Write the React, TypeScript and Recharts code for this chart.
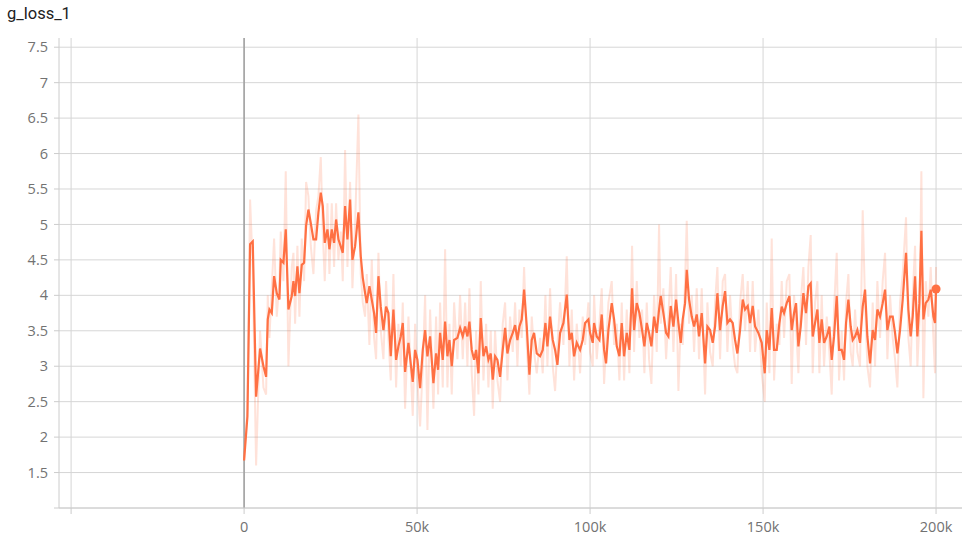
import {
  CartesianGrid,
  Line,
  LineChart,
  ReferenceDot,
  ReferenceLine,
  XAxis,
  YAxis,
} from "recharts";

// training step, in thousands
const steps = [
  0, 0.96, 1.73, 2.5, 3.47, 4.62, 5.59, 6.36, 6.84, 7.32,
  8.0, 8.67, 9.44, 10.21, 10.6, 11.37, 12.04, 12.81, 13.78, 14.26,
  14.74, 15.41, 15.99, 16.67, 17.34, 17.92, 18.59, 19.27, 20.04, 20.81,
  21.48, 22.16, 22.74, 23.31, 24.09, 24.66, 25.34, 26.01, 26.59, 27.26,
  27.94, 28.52, 29.19, 29.87, 30.64, 31.31, 32.08, 33.04, 33.72, 34.3,
  34.97, 35.45, 36.22, 36.9, 37.57, 38.15, 38.83, 39.5, 40.27, 41.04,
  41.71, 42.39, 43.16, 43.93, 44.6, 45.28, 45.86, 46.53, 47.5,
  // 50k – 100k
  48.75, 49.43, 50.1, 50.87, 51.64, 52.32, 52.99, 53.76, 54.72, 55.49,
  56.07, 56.65, 57.42, 58.1, 58.77, 59.35, 60.02, 60.7, 61.66, 62.43,
  63.2, 63.88, 64.55, 65.13, 65.8, 66.48, 67.06, 67.73, 68.4, 69.18,
  69.95, 70.62, 71.29, 71.87, 72.55, 73.22, 73.99, 74.76, 75.44, 76.11,
  76.88, 77.65, 78.33, 79.0, 79.58, 80.25, 80.93, 81.7, 82.47, 83.14,
  83.82, 84.59, 85.55, 86.32, 87.09, 87.67, 88.44, 89.21, 89.89, 90.56,
  91.33, 92.3, 93.26, 94.03, 94.7, 95.38, 96.15, 97.11, 97.88, 98.56,
  99.52,
  // 100k – 150k
  100.0, 100.77, 101.16, 101.93, 102.7, 103.37, 104.05, 104.62, 105.3, 106.26,
  106.94, 107.71, 108.48, 109.15, 109.83, 110.6, 111.37, 112.14, 112.72, 113.49,
  114.26, 115.03, 115.7, 116.38, 117.05, 117.73, 118.5, 119.27, 119.94, 120.42,
  121.19, 121.97, 122.64, 123.31, 124.09, 124.86, 125.53, 126.21, 126.78, 127.46,
  127.94, 128.61, 129.38, 130.06, 130.83, 131.5, 132.27, 133.24, 133.91, 134.68,
  135.45, 136.13, 136.8, 137.57, 138.34, 139.02, 139.69, 140.46, 141.23, 141.91,
  142.58, 143.35, 144.12, 144.8, 145.57, 146.24, 147.01, 147.69, 148.65, 149.62,
  // 150k – 200k
  150.48, 151.06, 151.83, 152.5, 153.18, 153.95, 154.72, 155.39, 156.07, 156.84,
  157.61, 158.28, 158.96, 159.53, 160.21, 160.88, 161.65, 162.42, 163.1, 163.77,
  164.35, 165.03, 165.7, 166.28, 166.95, 167.63, 168.4, 169.17, 169.84, 170.52,
  171.29, 171.96, 172.73, 173.41, 173.99, 174.66, 175.33, 175.91, 176.59, 177.26,
  178.03, 178.8, 179.48, 180.15, 180.92, 181.69, 182.37, 183.04, 183.81, 184.58,
  185.26, 185.93, 186.7, 187.47, 188.15, 188.82, 189.59, 190.36, 191.32, 192.0,
  192.67, 193.25, 193.93, 194.6, 195.18, 195.76, 196.34, 197.01, 197.78, 198.46,
  199.23, 199.7, 200.0,
];

const smoothedLoss = [
  1.67, 2.29, 4.72, 4.76, 2.57, 3.25, 3.0, 2.85, 3.66, 3.8,
  3.75, 4.27, 4.03, 3.94, 4.5, 4.46, 4.93, 3.8, 3.99, 4.2,
  3.99, 4.41, 4.03, 4.43, 4.46, 4.98, 5.21, 5.02, 4.79, 4.79,
  5.17, 5.45, 5.26, 4.74, 4.93, 4.65, 4.93, 4.74, 5.07, 4.79,
  4.69, 4.6, 5.26, 4.79, 5.35, 4.5, 4.69, 5.17, 4.55, 4.25,
  4.03, 3.89, 4.13, 3.94, 3.75, 3.47, 4.27, 3.84, 3.51, 3.84,
  3.75, 3.14, 3.8, 3.09, 3.28, 3.42, 3.61, 2.92, 3.33,
  2.78, 3.23, 3.09, 2.69, 3.23, 3.51, 3.14, 3.42, 2.76, 3.18,
  2.95, 3.47, 3.09, 3.63, 3.14, 3.37, 3.0, 3.37, 3.4, 3.54,
  3.42, 3.56, 3.42, 3.63, 3.23, 3.09, 3.23, 2.9, 3.68, 3.14,
  3.28, 3.09, 3.18, 2.81, 3.14, 3.09, 2.85, 3.23, 3.54, 3.18,
  3.37, 3.47, 3.58, 3.37, 3.56, 3.66, 4.08, 3.56, 2.88, 3.37,
  3.47, 3.18, 3.14, 3.23, 3.61, 3.28, 3.7, 3.37, 3.23, 3.02,
  3.47, 3.61, 4.01, 3.37, 3.47, 3.14, 3.33, 3.23, 3.37, 3.61,
  3.66,
  3.47, 3.33, 3.61, 3.42, 3.37, 3.73, 3.23, 3.04, 3.51, 3.89,
  3.66, 3.28, 3.14, 3.61, 3.14, 3.47, 3.23, 4.1, 3.51, 3.89,
  3.75, 3.51, 3.28, 3.61, 3.47, 3.28, 3.7, 3.47, 3.8, 3.99,
  3.75, 3.47, 3.42, 3.85, 3.56, 3.94, 3.61, 3.33, 3.66, 3.89,
  4.36, 3.94, 3.7, 3.56, 3.73, 3.42, 3.75, 3.04, 3.56, 3.51,
  3.33, 3.56, 4.03, 3.51, 3.85, 4.06, 3.61, 3.66, 3.61, 3.37,
  3.18, 3.51, 3.94, 3.8, 3.85, 3.61, 3.85, 3.56, 3.47, 3.33,
  2.9, 3.51, 3.23, 3.82, 3.23, 3.23, 3.61, 3.84, 3.75, 3.89,
  3.99, 3.51, 3.75, 3.89, 3.28, 3.56, 4.03, 3.75, 4.13, 4.17,
  3.42, 3.61, 3.8, 3.33, 3.66, 3.33, 3.42, 3.56, 3.09, 3.42,
  3.99, 3.23, 3.23, 3.09, 3.61, 3.94, 3.56, 3.37, 3.42, 3.51,
  3.33, 3.84, 4.08, 3.42, 3.04, 3.51, 3.37, 3.8, 3.7, 3.89,
  4.08, 3.51, 3.7, 3.7, 3.47, 3.18, 3.51, 3.94, 4.6, 3.8,
  3.42, 3.7, 4.27, 3.42, 3.89, 4.91, 3.66, 3.89, 3.94, 4.08,
  3.7, 3.61, 4.09,
];

const rawLoss = [
  1.7, 2.4, 5.35, 4.4, 1.6, 3.5, 2.7, 2.6, 4.0, 3.4,
  4.1, 4.8, 3.7, 4.2, 4.9, 4.2, 5.75, 3.0, 4.4, 4.6,
  3.6, 4.7, 3.7, 4.8, 4.2, 5.6, 5.4, 4.7, 4.3, 5.2,
  5.4, 5.95, 4.9, 4.2, 5.3, 4.3, 5.3, 4.4, 5.3, 4.5,
  4.9, 4.2, 6.05, 4.4, 5.6, 4.1, 5.0, 6.55, 4.3, 3.9,
  3.7, 4.3, 3.3, 4.5, 3.4, 3.1, 4.6, 3.5, 3.1, 4.2,
  3.4, 2.8, 4.3, 2.7, 3.6, 3.0, 3.9, 2.4, 3.7,
  2.3, 3.6, 2.8, 2.15, 3.0, 4.0, 2.1, 3.8, 2.4, 3.7,
  2.6, 3.9, 2.7, 4.65, 2.7, 3.6, 2.6, 3.9, 3.1, 4.0,
  3.1, 3.9, 3.0, 4.1, 2.9, 2.3, 3.5, 2.6, 4.2, 2.8,
  3.6, 2.7, 3.5, 2.4, 3.5, 2.8, 2.5, 3.6, 3.9, 2.8,
  3.7, 3.2, 3.9, 3.0, 3.8, 3.4, 4.4, 3.3, 2.6, 3.7,
  3.2, 2.9, 3.4, 2.9, 4.0, 3.0, 4.1, 3.0, 2.65, 3.3,
  3.9, 3.3, 4.55, 3.0, 3.8, 2.8, 3.6, 2.9, 3.7, 3.3,
  3.9,
  3.2, 3.0, 4.0, 3.1, 3.6, 4.1, 2.75, 3.3, 3.9, 4.2,
  3.3, 3.6, 2.8, 3.9, 2.8, 3.8, 2.9, 4.7, 3.2, 4.2,
  3.4, 3.8, 2.9, 3.9, 3.1, 2.75, 4.0, 3.2, 5.0, 3.6,
  4.1, 3.1, 3.7, 4.4, 3.2, 4.3, 2.65, 3.6, 3.3, 4.2,
  5.05, 3.6, 4.0, 3.2, 4.1, 3.1, 4.1, 2.6, 3.9, 3.2,
  3.0, 3.9, 4.4, 3.1, 4.2, 4.3, 3.2, 4.0, 3.3, 3.0,
  2.9, 3.9, 4.3, 3.5, 4.2, 3.2, 4.2, 3.2, 3.8, 2.9,
  2.5, 3.9, 2.9, 4.8, 2.8, 3.6, 3.3, 4.2, 3.4, 4.2,
  4.3, 2.75, 4.0, 3.6, 2.9, 3.9, 4.4, 3.3, 4.4, 4.85,
  2.9, 3.9, 4.2, 2.9, 4.0, 3.0, 3.7, 3.2, 2.6, 3.8,
  4.6, 2.8, 3.5, 2.8, 3.9, 4.3, 3.2, 3.0, 3.8, 3.2,
  3.0, 5.2, 3.9, 3.0, 2.7, 3.9, 3.0, 4.2, 3.4, 4.2,
  4.6, 3.1, 4.0, 3.4, 3.1, 2.7, 3.9, 4.3, 5.1, 3.4,
  3.0, 4.0, 4.7, 3.0, 3.6, 5.75, 2.55, 4.2, 3.7, 4.4,
  3.4, 2.9, 4.4,
];

const xTicks = [-50, 0, 50, 100, 150, 200];
const yTicks = [1, 1.5, 2, 2.5, 3, 3.5, 4, 4.5, 5, 5.5, 6, 6.5, 7, 7.5];

const ORANGE = "#ff7043";
const tickStyle = { fill: "#727272", fontSize: 14.5, fontFamily: "'Open Sans', sans-serif" };

const data = steps.map((s, i) => ({ step: s, raw: rawLoss[i], smooth: smoothedLoss[i] }));

const fmtX = (v: number) => (v < 0 ? "" : v === 0 ? "0" : `${v}k`);
const fmtY = (v: number) => (v === 1 ? "" : String(v));

export default function App() {
  const last = steps.length - 1;
  return (
    <div style={{ position: "absolute", left: 0, top: 0, width: 962, height: 538, background: "#fff" }}>
      <div
        style={{
          position: "absolute",
          left: 7,
          top: 4,
          fontFamily: "Roboto, sans-serif",
          fontSize: 16.5,
          lineHeight: "20px",
          color: "#212121",
        }}
      >
        g_loss_1
      </div>
      <LineChart
        width={962}
        height={538}
        data={data}
        margin={{ top: 38, right: 0, bottom: 0, left: 0 }}
      >
        <CartesianGrid stroke="#d6d6d6" strokeWidth={1} verticalValues={xTicks} horizontalValues={yTicks} />
        <XAxis
          type="number"
          dataKey="step"
          domain={[-53.5, 207.5]}
          ticks={xTicks}
          tickFormatter={fmtX}
          allowDataOverflow
          height={30}
          stroke="#cccccc"
          tickSize={6}
          tickMargin={8}
          tick={tickStyle}
        />
        <YAxis
          type="number"
          domain={[1, 7.63]}
          ticks={yTicks}
          tickFormatter={fmtY}
          allowDataOverflow
          width={59}
          stroke="#cccccc"
          tickSize={5}
          tickMargin={6}
          tick={tickStyle}
        />
        <ReferenceLine x={0} stroke="#9e9e9e" strokeWidth={1.5} />
        <Line
          type="linear"
          dataKey="raw"
          stroke={ORANGE}
          strokeOpacity={0.2}
          strokeWidth={2}
          dot={false}
          isAnimationActive={false}
        />
        <Line
          type="linear"
          dataKey="smooth"
          stroke={ORANGE}
          strokeWidth={2.2}
          dot={false}
          isAnimationActive={false}
        />
        <ReferenceDot x={steps[last]} y={smoothedLoss[last]} r={4.5} fill={ORANGE} stroke="none" />
      </LineChart>
    </div>
  );
}
